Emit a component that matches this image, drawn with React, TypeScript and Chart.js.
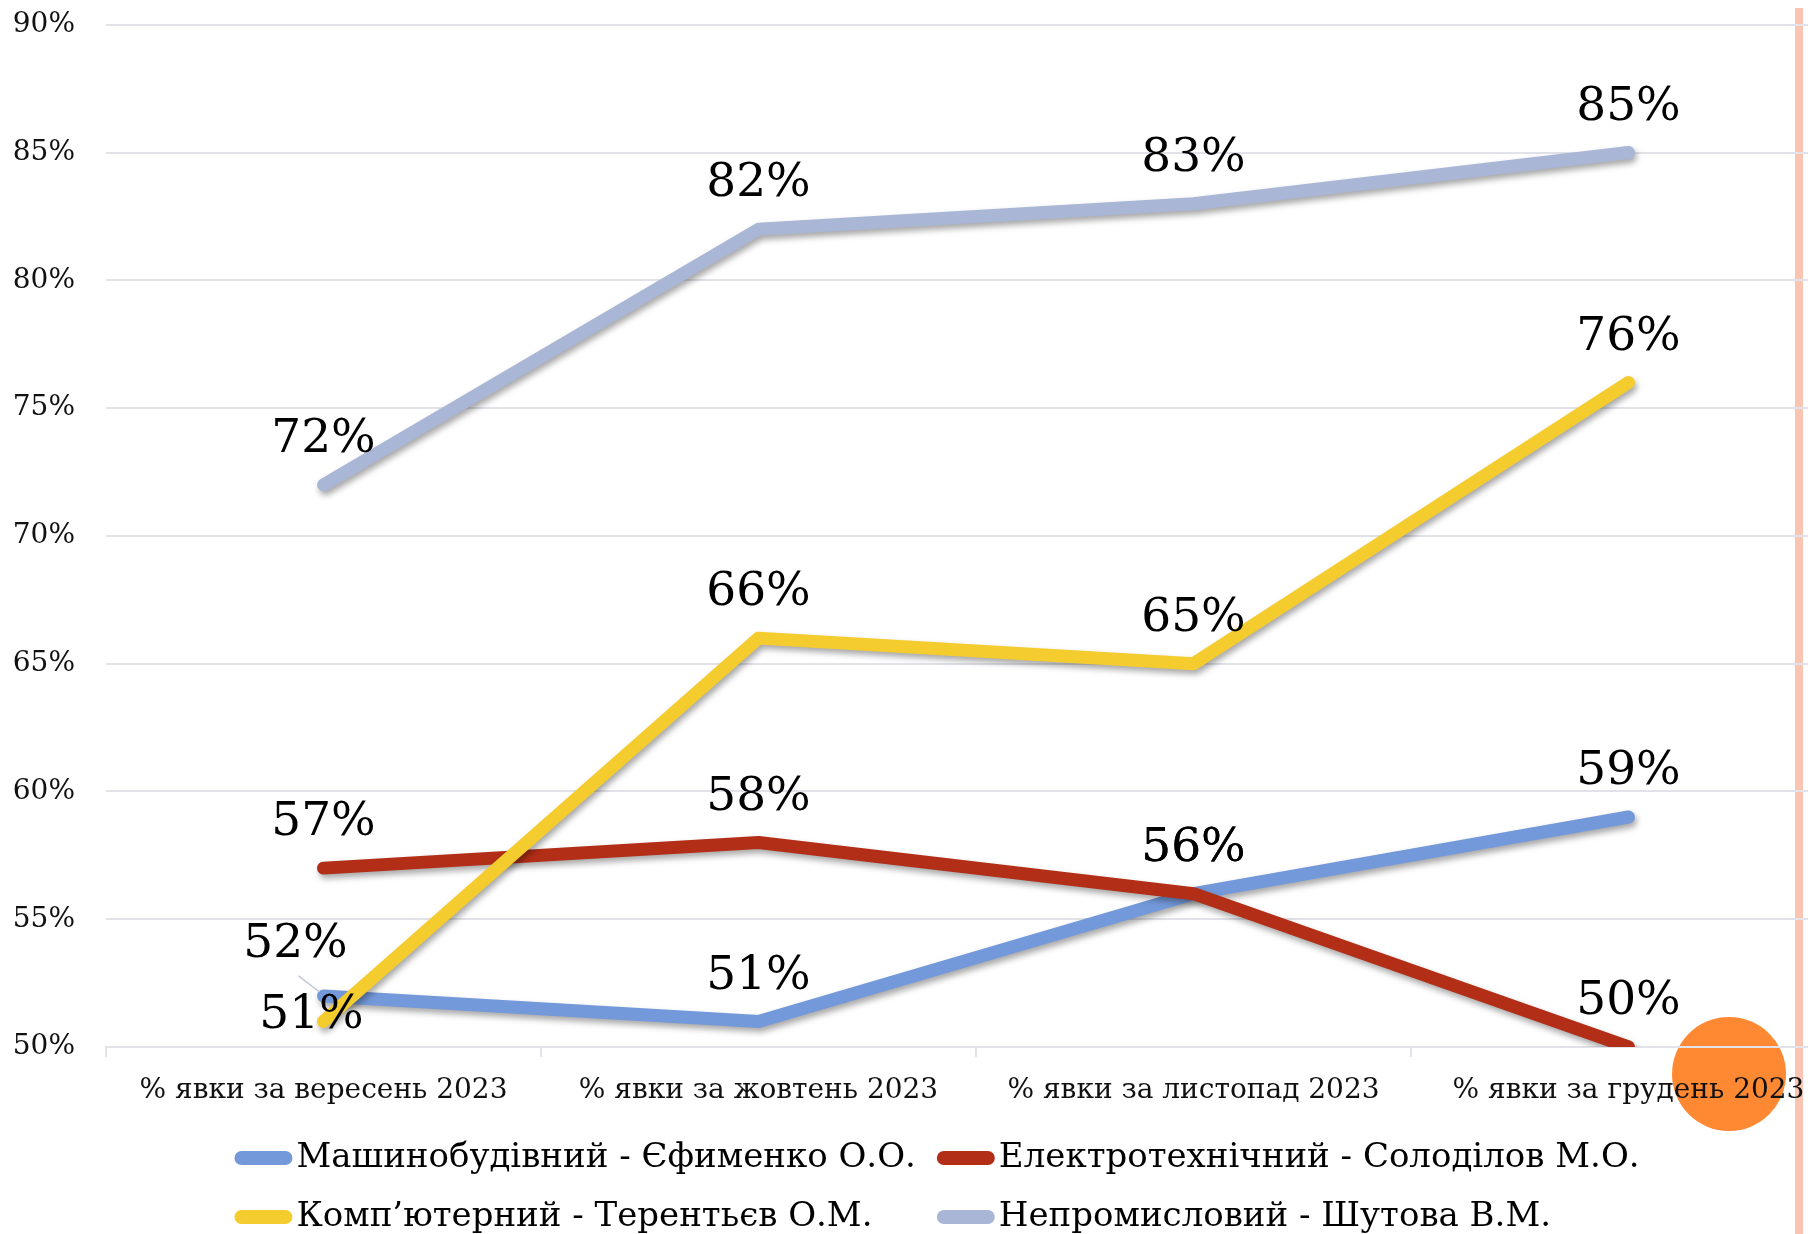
import React, { useEffect, useRef } from "react";
import { Chart, registerables } from "chart.js";

Chart.register(...registerables);

const categories = [
  "% явки за вересень 2023",
  "% явки за жовтень 2023",
  "% явки за листопад 2023",
  "% явки за грудень 2023",
];

const seriesNames = [
  "Машинобудівний - Єфименко О.О.",
  "Електротехнічний - Солоділов М.О.",
  "Комп’ютерний - Терентьєв О.М.",
  "Непромисловий - Шутова В.М.",
];

const mashValues = [52, 51, 56, 59];
const electroValues = [57, 58, 56, 50];
const compValues = [51, 66, 65, 76];
const nonIndValues = [72, 82, 83, 85];

const yMin = 50;
const yMax = 90;
const yStep = 5;

const seriesColors = ["#7399DA", "#B22E17", "#F5CC2E", "#A9B6D6"];

const FONT = '"DejaVu Serif", serif';
const GRID = "#E2E3E8";

const shadowPlugin = {
  id: "lineShadow",
  beforeDatasetDraw(chart: any) {
    const ctx = chart.ctx;
    ctx.save();
    ctx.shadowColor = "rgba(0,0,0,0.35)";
    ctx.shadowBlur = 6;
    ctx.shadowOffsetX = 2;
    ctx.shadowOffsetY = 4;
  },
  afterDatasetDraw(chart: any) {
    chart.ctx.restore();
  },
};

const labelPlugin = {
  id: "valueLabels",
  afterDatasetsDraw(chart: any) {
    const ctx = chart.ctx;
    ctx.save();
    chart.data.datasets.forEach((ds: any, di: number) => {
      const meta = chart.getDatasetMeta(di);
      const offs = ds.labelOffsets || [];
      meta.data.forEach((pt: any, i: number) => {
        const o = offs[i] || [0, -45, 0];
        const x = pt.x + o[0];
        const y = pt.y + o[1];
        if (o[2]) {
          ctx.strokeStyle = "#C3C9D6";
          ctx.lineWidth = 1.5;
          ctx.beginPath();
          ctx.moveTo(pt.x - 25, pt.y - 20);
          ctx.lineTo(pt.x - 4, pt.y - 4);
          ctx.stroke();
        }
        ctx.font = `47px ${FONT}`;
        ctx.fillStyle = "#000";
        ctx.textAlign = "center";
        ctx.textBaseline = "middle";
        ctx.fillText(`${ds.data[i]}%`, x, y);
      });
    });
    ctx.restore();
  },
};

const legendPlugin = {
  id: "gridLegend",
  afterDraw(chart: any) {
    const ctx = chart.ctx;
    const ds = chart.data.datasets;
    ctx.save();
    ctx.font = `34px ${FONT}`;
    const lineLen = 58;
    const textGap = 4;
    const colGap = 21;
    const cols = 2;
    const colW: number[] = [0, 0];
    ds.forEach((d: any, i: number) => {
      const w = lineLen + textGap + ctx.measureText(d.label).width;
      colW[i % cols] = Math.max(colW[i % cols], w);
    });
    const total = colW[0] + colGap + colW[1];
    const startX = chart.width / 2 + 10 - total / 2;
    const rowY = [1150, 1209];
    ds.forEach((d: any, i: number) => {
      const c = i % cols;
      const r = Math.floor(i / cols);
      const x = startX + (c === 0 ? 0 : colW[0] + colGap);
      const y = rowY[r];
      ctx.strokeStyle = d.borderColor;
      ctx.lineWidth = 14;
      ctx.lineCap = "round";
      ctx.beginPath();
      ctx.moveTo(x + 7, y);
      ctx.lineTo(x + lineLen - 7, y);
      ctx.stroke();
      ctx.fillStyle = "#000";
      ctx.textAlign = "left";
      ctx.textBaseline = "middle";
      ctx.fillText(d.label, x + lineLen + textGap, y);
    });
    ctx.restore();
  },
};

export default function App() {
  const ref = useRef<HTMLCanvasElement | null>(null);

  useEffect(() => {
    document.body.style.overflow = "hidden";
    document.documentElement.style.overflow = "hidden";
    if (!ref.current) return;
    const values = [mashValues, electroValues, compValues, nonIndValues];
    const drawOrder = [3, 2, 1, 0];
    const chart = new Chart(ref.current, {
      type: "line",
      data: {
        labels: categories,
        datasets: values.map((v, i) => ({
          label: seriesNames[i],
          data: v,
          borderColor: seriesColors[i],
          backgroundColor: seriesColors[i],
          borderWidth: 13,
          borderCapStyle: "round",
          borderJoinStyle: "round",
          pointRadius: 0,
          pointHoverRadius: 0,
          tension: 0,
          fill: false,
          order: drawOrder[i],
          labelOffsets:
            i === 0
              ? [[-28, -51, 1]]
              : i === 2
              ? [[-12, -6, 0]]
              : [],
        })) as any,
      },
      options: {
        responsive: false,
        animation: false,
        layout: { padding: { top: 16, bottom: 120, left: 0, right: 0 } },
        plugins: {
          legend: { display: false },
          tooltip: { enabled: false },
        },
        scales: {
          x: {
            type: "category",
            offset: true,
            grid: {
              display: true,
              drawOnChartArea: false,
              drawTicks: true,
              tickLength: 10,
              color: GRID,
              lineWidth: 2,
              offset: true,
            },
            border: { display: true, color: GRID, width: 2 },
            ticks: {
              font: { family: FONT, size: 28 },
              color: "#111",
              padding: 17,
              maxRotation: 0,
              autoSkip: false,
            },
            afterFit(scale: any) {
              scale.height = 67;
            },
          },
          y: {
            min: yMin,
            max: yMax,
            ticks: {
              stepSize: yStep,
              font: { family: FONT, size: 28 },
              color: "#111",
              padding: 0,
              callback: (v: any) => `${v}%`,
            },
            grid: {
              color: GRID,
              lineWidth: 2,
              drawTicks: true,
              tickLength: 31,
              tickColor: "rgba(0,0,0,0)",
            },
            border: { display: false },
            afterFit(scale: any) {
              scale.width = 98;
            },
          },
        },
      },
      plugins: [shadowPlugin, labelPlugin, legendPlugin],
    });
    return () => chart.destroy();
  }, []);

  return (
    <div
      style={{
        position: "relative",
        width: 1800,
        height: 1226,
        overflow: "hidden",
      }}
    >
      <div
        style={{
          position: "absolute",
          left: 1795 - 8,
          top: -8,
          width: 8,
          height: 1250,
          background: "#F9C5B2",
          zIndex: 0,
        }}
      />
      <div
        style={{
          position: "absolute",
          left: 1814 - 8,
          top: -8,
          width: 1,
          height: 1250,
          background: "#F9C5B2",
          zIndex: 0,
        }}
      />
      <div
        style={{
          position: "absolute",
          left: 1729 - 8 - 57,
          top: 1074 - 8 - 57,
          width: 114,
          height: 114,
          borderRadius: "50%",
          background: "#FF8833",
          zIndex: 0,
        }}
      />
      <canvas
        ref={ref}
        width={1838}
        height={1226}
        style={{
          position: "relative",
          zIndex: 1,
          width: 1838,
          height: 1226,
          display: "block",
        }}
      />
    </div>
  );
}
